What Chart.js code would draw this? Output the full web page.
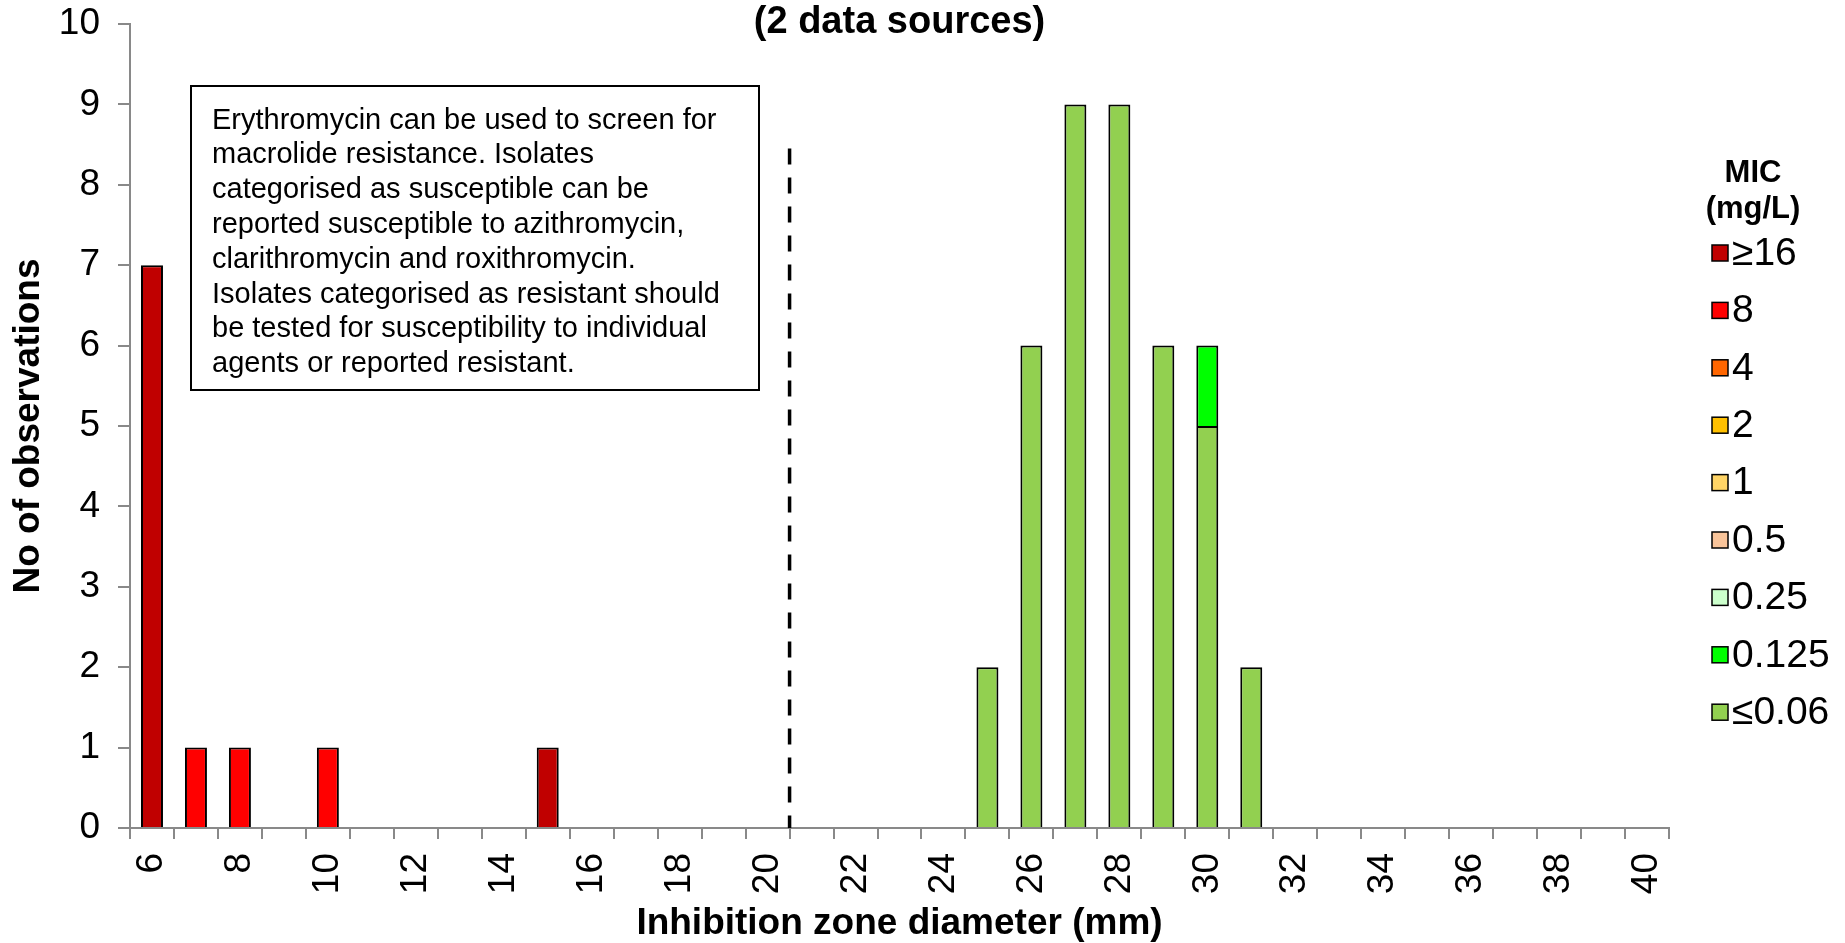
<!DOCTYPE html>
<html>
<head>
<meta charset="utf-8">
<script src="https://cdn.jsdelivr.net/npm/chart.js@4"></script>
<style>
html,body{margin:0;padding:0;background:#fff;}
#wrap{width:1845px;height:943px;position:relative;}
</style>
</head>
<body>
<div id="wrap"><canvas id="c" width="1845" height="943"></canvas></div>
<script>
// ---- data ----
const categories = ['6','7','8','9','10','11','12','13','14','15','16','17','18','19','20','21','22','23','24','25','26','27','28','29','30','31','32','33','34','35','36','37','38','39','40'];
const xTickLabels = ['6','8','10','12','14','16','18','20','22','24','26','28','30','32','34','36','38','40'];
const yTickValues = [0,1,2,3,4,5,6,7,8,9,10];

const micLabels = ['≥16','8','4','2','1','0.5','0.25','0.125','≤0.06'];
const micColors = ['#C00000','#FF0000','#FF6600','#FFC000','#FFD466','#F9C49A','#CCFFCC','#00FF00','#92D050'];

//                 6 7 8 9 10 11 12 13 14 15 16 17 18 19 20 21 22 23 24 25 26 27 28 29 30 31 32 33 34 35 36 37 38 39 40
const micGe16   = [7,0,0,0,0, 0, 0, 0, 0, 1, 0, 0, 0, 0, 0, 0, 0, 0, 0, 0, 0, 0, 0, 0, 0, 0, 0, 0, 0, 0, 0, 0, 0, 0, 0];
const mic8      = [0,1,1,0,1, 0, 0, 0, 0, 0, 0, 0, 0, 0, 0, 0, 0, 0, 0, 0, 0, 0, 0, 0, 0, 0, 0, 0, 0, 0, 0, 0, 0, 0, 0];
const mic4      = [0,0,0,0,0, 0, 0, 0, 0, 0, 0, 0, 0, 0, 0, 0, 0, 0, 0, 0, 0, 0, 0, 0, 0, 0, 0, 0, 0, 0, 0, 0, 0, 0, 0];
const mic2      = [0,0,0,0,0, 0, 0, 0, 0, 0, 0, 0, 0, 0, 0, 0, 0, 0, 0, 0, 0, 0, 0, 0, 0, 0, 0, 0, 0, 0, 0, 0, 0, 0, 0];
const mic1      = [0,0,0,0,0, 0, 0, 0, 0, 0, 0, 0, 0, 0, 0, 0, 0, 0, 0, 0, 0, 0, 0, 0, 0, 0, 0, 0, 0, 0, 0, 0, 0, 0, 0];
const mic05     = [0,0,0,0,0, 0, 0, 0, 0, 0, 0, 0, 0, 0, 0, 0, 0, 0, 0, 0, 0, 0, 0, 0, 0, 0, 0, 0, 0, 0, 0, 0, 0, 0, 0];
const mic025    = [0,0,0,0,0, 0, 0, 0, 0, 0, 0, 0, 0, 0, 0, 0, 0, 0, 0, 0, 0, 0, 0, 0, 0, 0, 0, 0, 0, 0, 0, 0, 0, 0, 0];
const mic0125   = [0,0,0,0,0, 0, 0, 0, 0, 0, 0, 0, 0, 0, 0, 0, 0, 0, 0, 0, 0, 0, 0, 0, 1, 0, 0, 0, 0, 0, 0, 0, 0, 0, 0];
const micLe006  = [0,0,0,0,0, 0, 0, 0, 0, 0, 0, 0, 0, 0, 0, 0, 0, 0, 0, 2, 6, 9, 9, 6, 5, 2, 0, 0, 0, 0, 0, 0, 0, 0, 0];

const micSeries = [micGe16, mic8, mic4, mic2, mic1, mic05, mic025, mic0125, micLe006];

const breakpointAfter = '20';     // dashed line between 20 and 21 mm
const breakpointTopValue = 8.45;  // top of dashed line (observations)

const chartTitle = '(2 data sources)';
const xTitle = 'Inhibition zone diameter (mm)';
const yTitle = 'No of observations';
const legendTitle = ['MIC', '(mg/L)'];
const noteLines = [
  'Erythromycin can be used to screen for',
  'macrolide resistance. Isolates',
  'categorised as susceptible can be',
  'reported susceptible to azithromycin,',
  'clarithromycin and roxithromycin.',
  'Isolates categorised as resistant should',
  'be tested for susceptibility to individual',
  'agents or reported resistant.'
];

// ---- chart ----
const FONT = "'Liberation Sans', Arial, sans-serif";
Chart.defaults.font.family = FONT;
Chart.defaults.color = '#000';

// stacking: lowest MIC at the bottom; empty cells are not drawn
const datasets = [];
for (let i = micLabels.length - 1; i >= 0; i--) {
  datasets.push({
    label: micLabels[i],
    data: micSeries[i].map(v => (v === 0 ? null : v)),
    backgroundColor: micColors[i],
    borderColor: '#000',
    borderWidth: 2,
    borderSkipped: 'start',
    categoryPercentage: 1.0,
    barPercentage: 0.5
  });
}

const extras = {
  id: 'extras',
  afterDatasetsDraw(chart) {
    const {ctx, chartArea, scales: {x, y}} = chart;
    ctx.save();
    // dashed breakpoint line
    const xb = x.getPixelForValue(categories.indexOf(breakpointAfter) + 0.5);
    ctx.setLineDash([16, 13]);
    ctx.lineWidth = 3.5;
    ctx.strokeStyle = '#000';
    ctx.beginPath();
    ctx.moveTo(xb, y.getPixelForValue(breakpointTopValue));
    ctx.lineTo(xb, y.getPixelForValue(0));
    ctx.stroke();
    ctx.setLineDash([]);

    // note box
    const bx = chartArea.left + 61, by = chartArea.top + 62, bw = 568, bh = 304;
    ctx.fillStyle = '#fff';
    ctx.fillRect(bx, by, bw, bh);
    ctx.lineWidth = 2;
    ctx.strokeStyle = '#000';
    ctx.strokeRect(bx, by, bw, bh);
    ctx.fillStyle = '#000';
    ctx.font = '29px ' + FONT;
    ctx.textAlign = 'left';
    ctx.textBaseline = 'middle';
    noteLines.forEach((t, i) => ctx.fillText(t, bx + 21, by + 34.5 + i * 34.8));

    // legend
    const lx = chartArea.right;
    ctx.font = 'bold 31px ' + FONT;
    ctx.textAlign = 'center';
    legendTitle.forEach((t, i) => ctx.fillText(t, lx + 84, chartArea.top + 149 + i * 36.5));
    ctx.textAlign = 'left';
    ctx.font = '39px ' + FONT;
    micLabels.forEach((lab, i) => {
      const cy = chartArea.top + 229 + i * 57.4;
      ctx.fillStyle = micColors[i];
      ctx.fillRect(lx + 43, cy - 8, 16, 16);
      ctx.lineWidth = 1.5;
      ctx.strokeStyle = '#000';
      ctx.strokeRect(lx + 43, cy - 8, 16, 16);
      ctx.fillStyle = '#000';
      ctx.fillText(lab, lx + 63, cy + 1);
    });
    ctx.restore();
  }
};

new Chart(document.getElementById('c'), {
  type: 'bar',
  data: { labels: categories, datasets },
  options: {
    responsive: false,
    animation: false,
    devicePixelRatio: 1,
    layout: { padding: { left: 0, right: 176, top: 0, bottom: 0 } },
    plugins: {
      legend: { display: false },
      tooltip: { enabled: false },
      title: {
        display: true,
        text: chartTitle,
        fullSize: false,
        color: '#000',
        font: { size: 38, weight: 'bold', lineHeight: 1.0 },
        padding: { top: 3.4, bottom: -17.4 }
      }
    },
    scales: {
      x: {
        type: 'category',
        stacked: true,
        offset: true,
        afterFit(scale) { scale.height = 115; scale.paddingLeft = 0; scale.paddingRight = 0; },
        grid: { offset: true, drawOnChartArea: false, drawTicks: true, tickLength: 11, color: '#898989', lineWidth: 2 },
        border: { color: '#898989', width: 2 },
        ticks: {
          autoSkip: false,
          minRotation: 90,
          maxRotation: 90,
          padding: 14,
          color: '#000',
          font: { size: 37 },
          callback: function (v) {
            const l = this.getLabelForValue(v);
            return xTickLabels.includes(l) ? l : '';
          }
        },
        title: {
          display: true,
          text: xTitle,
          color: '#000',
          font: { size: 37, weight: 'bold', lineHeight: 1.0 },
          padding: { top: 0, bottom: 0.8 }
        }
      },
      y: {
        stacked: true,
        min: yTickValues[0],
        max: yTickValues[yTickValues.length - 1],
        afterFit(scale) { scale.width = 130; scale.paddingTop = 0; scale.paddingBottom = 0; },
        grid: { drawOnChartArea: false, drawTicks: true, tickLength: 12, color: '#898989', lineWidth: 2 },
        border: { color: '#898989', width: 2 },
        ticks: { stepSize: 1, padding: 18, color: '#000', font: { size: 37 } },
        title: {
          display: true,
          text: yTitle,
          color: '#000',
          font: { size: 37, weight: 'bold', lineHeight: 1.0 },
          padding: { top: 10.5, bottom: 0 }
        }
      }
    }
  },
  plugins: [extras]
});
</script>
</body>
</html>
